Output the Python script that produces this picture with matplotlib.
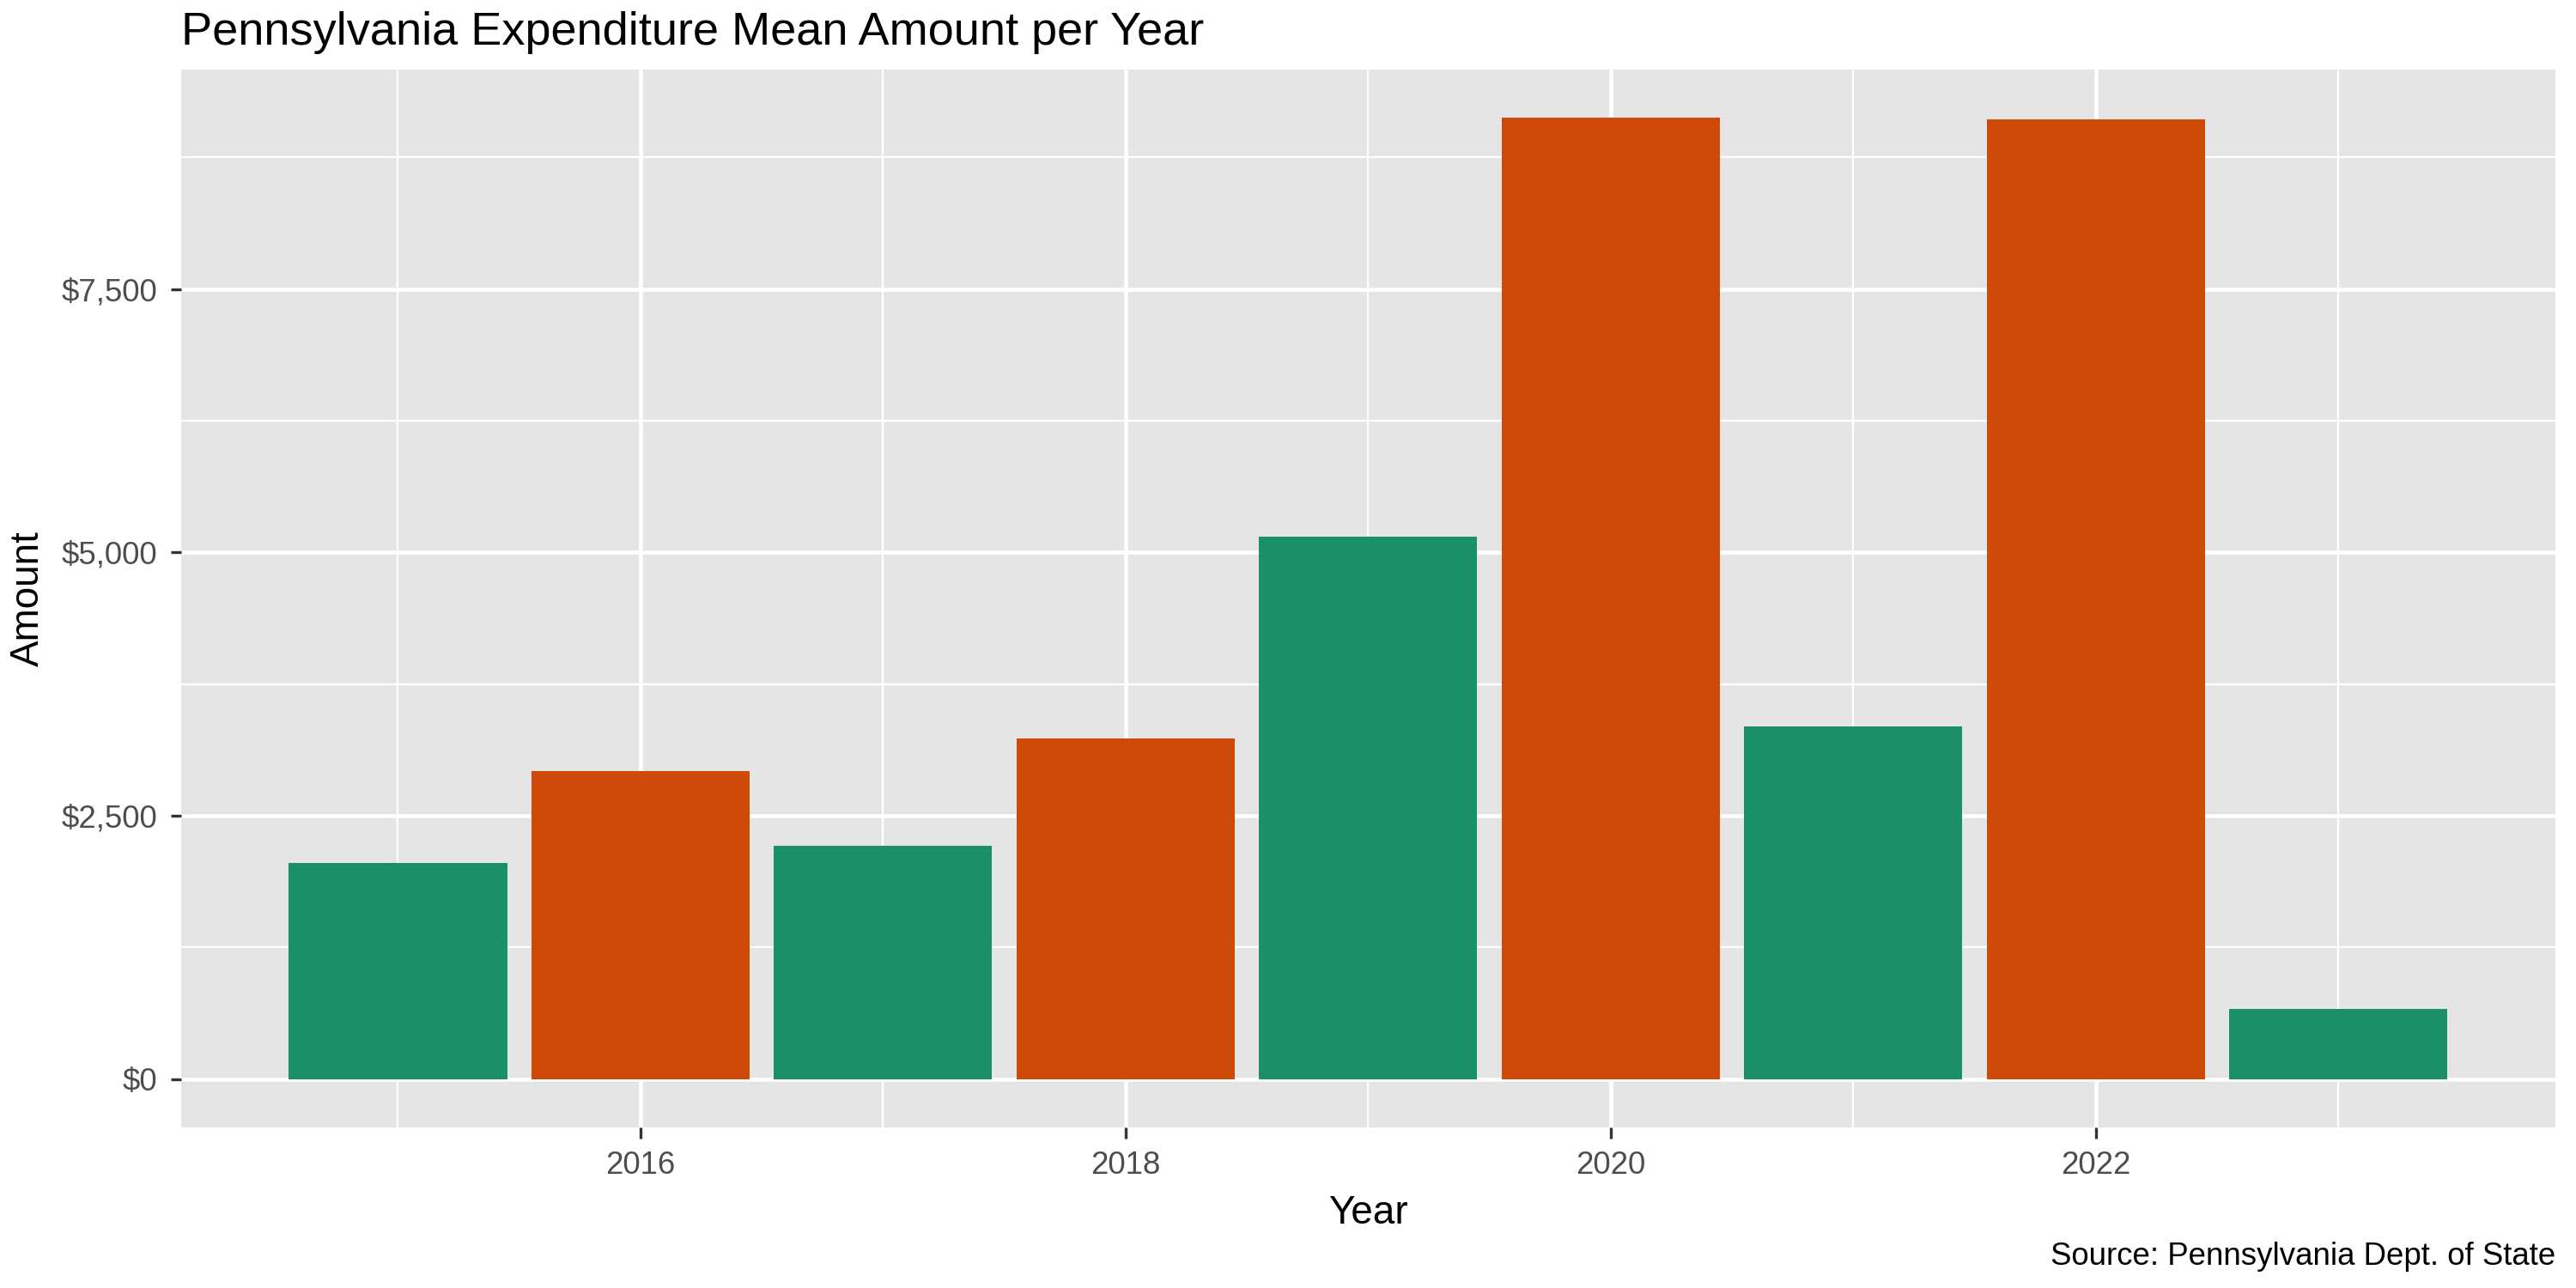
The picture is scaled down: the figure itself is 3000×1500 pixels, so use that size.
import matplotlib.pyplot as plt
from matplotlib.ticker import FuncFormatter, MultipleLocator

years = [2015, 2016, 2017, 2018, 2019, 2020, 2021, 2022, 2023]
amounts = [2053, 2922, 2211, 3237, 5148, 9128, 3348, 9112, 663]
colors = ['#1B9068' if y % 2 else '#CE4A08' for y in years]

plt.rcParams['font.family'] = ['Liberation Sans', 'DejaVu Sans']

fig = plt.figure(figsize=(10, 5), dpi=300)
ax = fig.add_axes([0.0702, 0.125, 0.9218, 0.821])
ax.set_facecolor('#E5E5E5')
ax.bar(years, amounts, width=0.9, color=colors, zorder=3)

ymax = max(amounts)
ax.set_xlim(2014.105, 2023.895)
ax.set_ylim(-0.05 * ymax, 1.05 * ymax)
ax.xaxis.set_major_locator(MultipleLocator(2))
ax.xaxis.set_minor_locator(MultipleLocator(1))
ax.yaxis.set_major_locator(MultipleLocator(2500))
ax.yaxis.set_minor_locator(MultipleLocator(1250))
ax.yaxis.set_major_formatter(FuncFormatter(lambda v, p: f'${v:,.0f}'))
ax.grid(which='major', color='white', linewidth=1.1, zorder=0)
ax.grid(which='minor', color='white', linewidth=0.55, zorder=0)
for s in ax.spines.values():
    s.set_visible(False)
ax.tick_params(which='major', length=3, color='#333333', labelsize=8.8, labelcolor='#4D4D4D')
ax.tick_params(which='minor', length=0)

ax.set_xlabel('Year', fontsize=11)
ax.set_ylabel('Amount', fontsize=11)
ax.set_title('Pennsylvania Expenditure Mean Amount per Year', fontsize=13, loc='left', pad=7)
fig.text(0.992, 0.018, 'Source: Pennsylvania Dept. of State', ha='right', fontsize=8.8)

fig.savefig('out.png', dpi=300)
